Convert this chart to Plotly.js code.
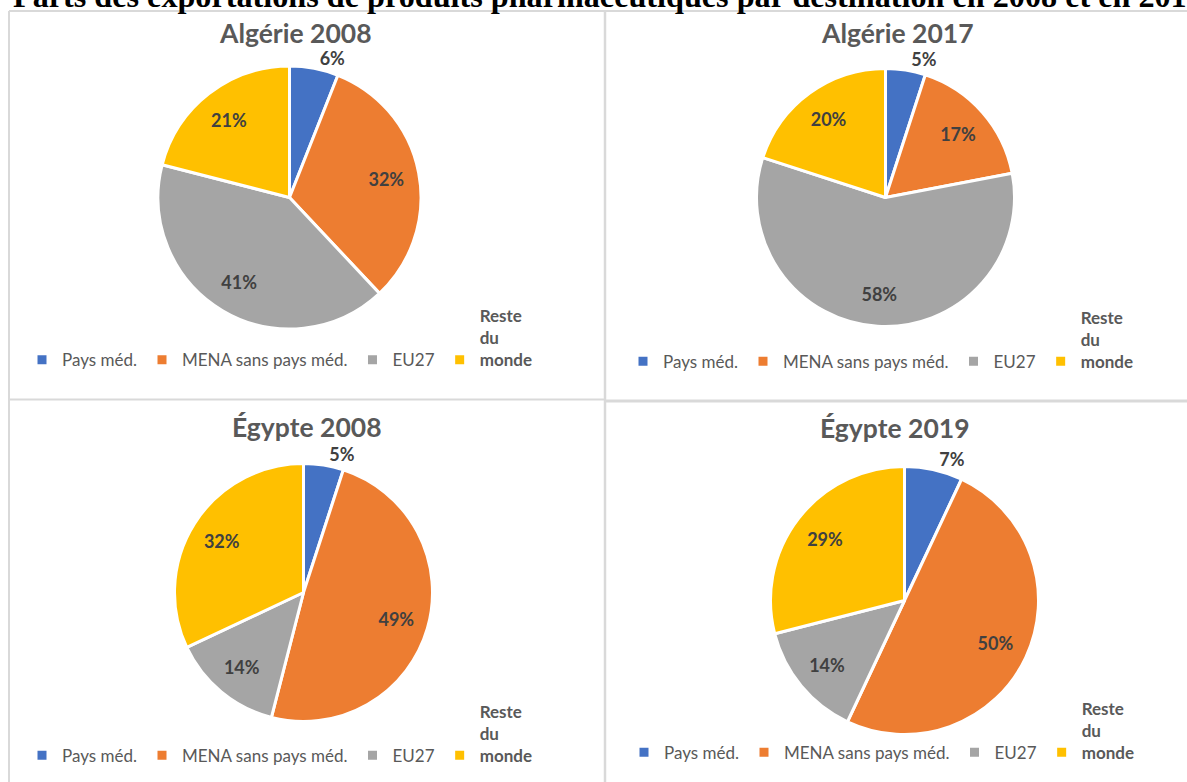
<!DOCTYPE html>
<html>
<head>
<meta charset="utf-8">
<script src="https://cdn.plot.ly/plotly-3.0.1.min.js"></script>
<style>
  html, body { margin: 0; padding: 0; background: #ffffff; overflow: hidden; }
  #chart { width: 1187px; height: 782px; }
</style>
</head>
<body>
<div id="chart"></div>
<script>
// ---------- data ----------
const categories = ['Pays méd.', 'MENA sans pays méd.', 'EU27', 'Reste du monde'];
const chartTitles = ['Algérie 2008', 'Algérie 2017', 'Égypte 2008', 'Égypte 2019'];
const algerie2008 = [6, 32, 41, 21];
const algerie2017 = [5, 17, 58, 20];
const egypte2008 = [5, 49, 14, 32];
const egypte2019 = [7, 50, 14, 29];
const pageTitle = 'Parts des exportations de produits pharmaceutiques par destination en 2008 et en 2017';

// ---------- style / layout ----------
const sliceColors = ['#4472C4', '#ED7D31', '#A5A5A5', '#FFC000'];
const W = 1187, H = 782;
const px = x => x / W;
const py = y => 1 - y / H;

const pieBoxes = [
  {cx: 289.5, cy: 197.5, r: 131.5},
  {cx: 885.5, cy: 197.5, r: 129},
  {cx: 303.5, cy: 592.5, r: 129},
  {cx: 904.5, cy: 600.5, r: 134}
];
const titleSpots = [{x: 295, y: 33}, {x: 897, y: 33}, {x: 307, y: 427}, {x: 895, y: 428}];
const legendSpots = [{x: 22, y: 298}, {x: 623, y: 299.5}, {x: 22, y: 693.5}, {x: 624, y: 690.5}];

const seriesList = [algerie2008, algerie2017, egypte2008, egypte2019];

// legend labels: last one wrapped in bold over three lines, others padded to the same height
const legendLabels = categories.map((c, i) =>
  i === categories.length - 1
    ? c.split(' ').map(w => '<b>' + w + '</b>').join('<br>')
    : '<br><br>' + c
);

const labelFont = {family: 'Lato, sans-serif', size: 18, color: '#404040', weight: 'bold'};

const traces = [];
const overlays = [];
const legends = {};
const annotations = [];

seriesList.forEach((vals, k) => {
  const b = pieBoxes[k];
  const domain = {
    x: [px(b.cx - b.r), px(b.cx + b.r)],
    y: [py(b.cy + b.r), py(b.cy - b.r)]
  };
  const legendId = k === 0 ? 'legend' : 'legend' + (k + 1);
  traces.push({
    type: 'pie',
    labels: legendLabels,
    values: vals,
    sort: false,
    direction: 'clockwise',
    rotation: 0,
    domain: domain,
    marker: {colors: sliceColors, line: {color: '#ffffff', width: 3}},
    textinfo: 'none',
    hoverinfo: 'skip',
    legend: legendId,
    legendgroup: 'g' + k,
    showlegend: true
  });
  // transparent ring carrying the percentage labels
  overlays.push({
    type: 'pie',
    labels: legendLabels,
    values: vals,
    sort: false,
    direction: 'clockwise',
    rotation: 0,
    domain: domain,
    hole: 0.5,
    marker: {colors: vals.map(() => 'rgba(0,0,0,0)'), line: {width: 0}},
    texttemplate: '%{value}%',
    textposition: vals.map(v => v < 10 ? 'outside' : 'inside'),
    insidetextorientation: 'horizontal',
    textfont: labelFont,
    insidetextfont: labelFont,
    outsidetextfont: labelFont,
    hoverinfo: 'skip',
    showlegend: false
  });
  legends[legendId] = {
    orientation: 'h',
    x: px(legendSpots[k].x),
    xanchor: 'left',
    y: py(legendSpots[k].y),
    yanchor: 'top',
    valign: 'bottom',
    traceorder: 'normal',
    bgcolor: 'rgba(0,0,0,0)',
    borderwidth: 0,
    font: {family: 'Lato, sans-serif', size: 17, color: '#595959'}
  };
  annotations.push({
    text: chartTitles[k],
    xref: 'paper', yref: 'paper',
    x: px(titleSpots[k].x), y: py(titleSpots[k].y),
    xanchor: 'center', yanchor: 'middle',
    showarrow: false,
    font: {family: 'Lato, sans-serif', size: 26.5, color: '#595959', weight: 'bold'}
  });
});

annotations.push({
  text: pageTitle,
  xref: 'paper', yref: 'paper',
  x: px(10.5), y: py(-4),
  xanchor: 'left', yanchor: 'middle',
  showarrow: false,
  font: {family: '"Liberation Serif", "Times New Roman", serif', size: 32.2, color: '#000000', weight: 'bold'}
});

const gridColor = '#D9D9D9';
const gridLine = (x0, y0, x1, y1, w) => ({
  type: 'line', xref: 'paper', yref: 'paper', layer: 'below',
  x0: px(x0), y0: py(y0), x1: px(x1), y1: py(y1),
  line: {color: gridColor, width: w}
});
const shapes = [
  gridLine(9, 11, 1187, 11, 2),
  gridLine(9, 11, 9, 782, 2),
  gridLine(605, 11, 605, 782, 2.5),
  gridLine(9, 399.5, 605, 399.5, 2),
  gridLine(605, 401, 1187, 401, 3)
];

const layout = Object.assign({
  width: W,
  height: H,
  margin: {l: 0, r: 0, t: 0, b: 0, pad: 0},
  paper_bgcolor: '#ffffff',
  plot_bgcolor: '#ffffff',
  font: {family: 'Lato, sans-serif', color: '#595959'},
  annotations: annotations,
  shapes: shapes
}, legends);

Plotly.newPlot('chart', traces.concat(overlays), layout, {staticPlot: true, displayModeBar: false});
</script>
</body>
</html>
